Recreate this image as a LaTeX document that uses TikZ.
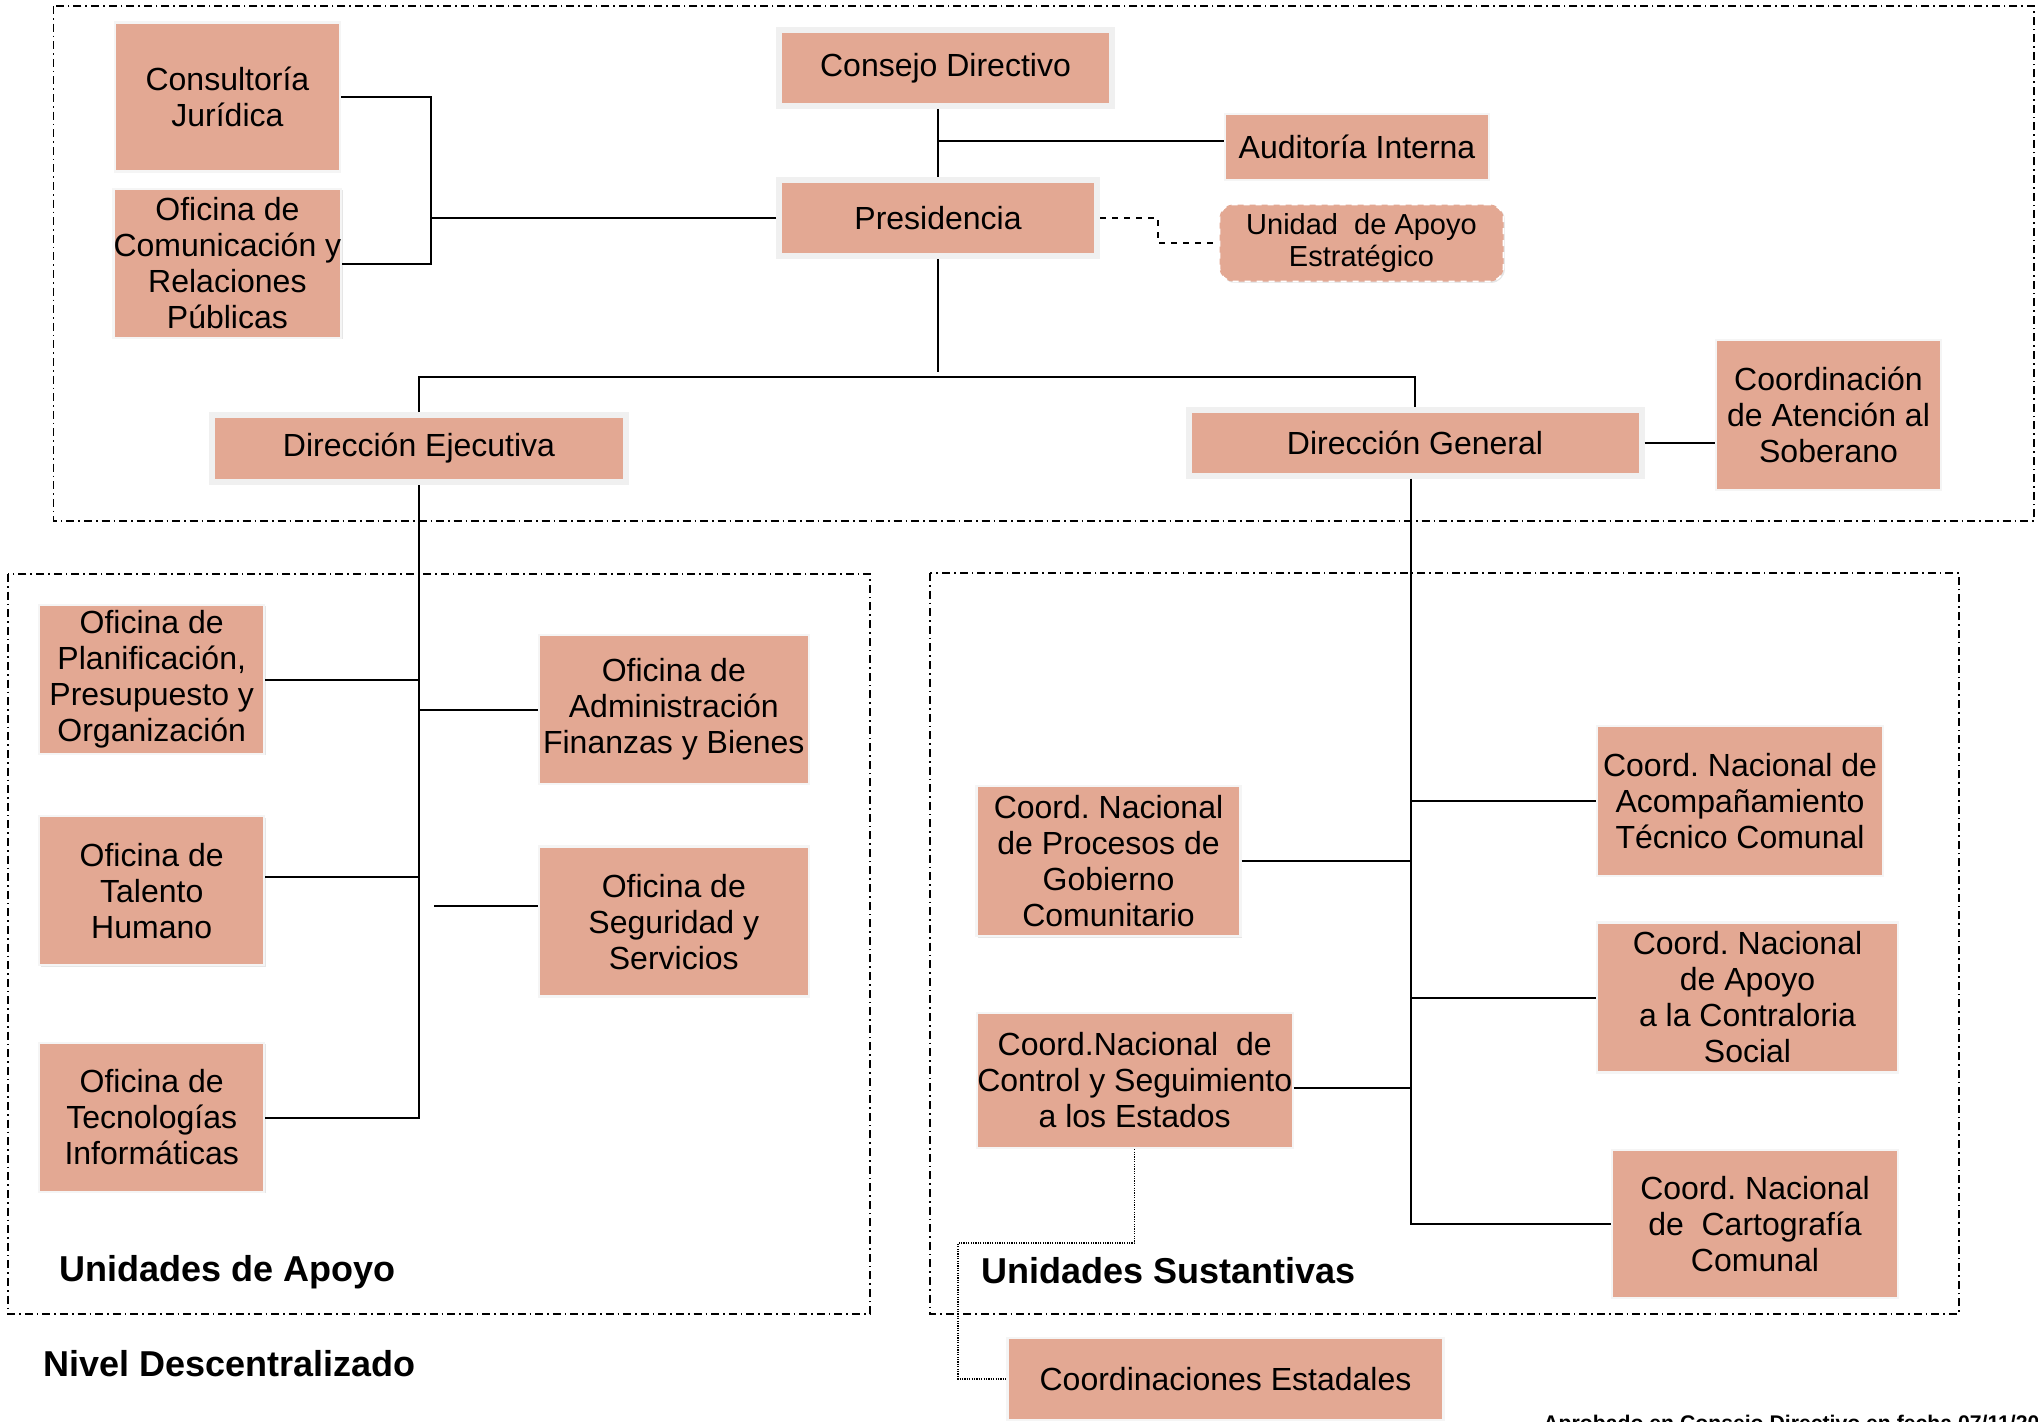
\documentclass[tikz,border=0pt]{standalone}
\usepackage{fontspec}
\setmainfont{Liberation Sans}
\usetikzlibrary{shadows}
\frenchspacing

\definecolor{boxfill}{RGB}{227,168,147}

\begin{document}
\begin{tikzpicture}[
x=0.5pt, y=-0.5pt,
boxsize/.style 2 args={minimum width=#1*0.5pt, minimum height=#2*0.5pt},
office/.style={rectangle, fill=boxfill, draw=gray!8, line width=1.2pt,
               inner sep=0pt, align=center,
               font=\fontsize{16}{18}\selectfont,
               drop shadow={shadow xshift=0.7pt, shadow yshift=-0.7pt, opacity=0.2}
               },
topoffice/.style={office, draw=gray!12, line width=3pt},
support/.style={office, rounded corners=7pt, draw=white, dashed, line width=0.8pt,
                font=\fontsize{14.5}{16.25}\selectfont},
zone/.style={dash pattern=on 4pt off 2pt on 0.8pt off 2pt, line width=0.7pt},
link/.style={line width=1pt},
zonelabel/.style={font=\fontsize{18}{20}\selectfont\bfseries, anchor=west, inner sep=0pt}]

\clip (0,0) rectangle (2038,1421);

% zones
\draw[zone] (53.5,6) rectangle (2034,521);
\draw[zone] (8,574) rectangle (870,1314);
\draw[zone] (930,573) rectangle (1959,1314);

% nivel superior
\node[topoffice, boxsize={333}{76}] (consejo) at (945.5,68) {Consejo Directivo};
\node[topoffice, boxsize={318}{76}] (pres) at (938,218) {Presidencia};
\node[office, boxsize={264}{66}] (audit) at (1357,147) {Auditoría Interna};
\node[support, boxsize={284}{77}] (uae) at (1361.5,243) {Unidad~ de Apoyo\\Estratégico};
\node[office, boxsize={225}{149}] (cj) at (227.4,96.8) {Consultoría\\Jurídica};
\node[office, boxsize={225}{149}] (ocrp) at (227.4,263.5) {Oficina de\\Comunicación y\\Relaciones\\Públicas};
\node[topoffice, boxsize={414}{67}] (de) at (419,448.5) {Dirección Ejecutiva};
\node[topoffice, boxsize={453}{66}] (dg) at (1415,442.5) {Dirección General};
\node[office, boxsize={225}{150}] (cas) at (1828.5,415) {Coordinación\\de Atención al\\Soberano};

% unidades de apoyo
\node[office, boxsize={225}{149}] (opp) at (151.7,679.5) {Oficina de\\Planificación,\\Presupuesto y\\Organización};
\node[office, boxsize={225}{149}] (oth) at (151.7,890.6) {Oficina de\\Talento\\Humano};
\node[office, boxsize={225}{149}] (oti) at (151.7,1117.5) {Oficina de\\Tecnologías\\Informáticas};
\node[office, boxsize={270}{149}] (oafb) at (673.8,709.5) {Oficina de\\Administración\\Finanzas y Bienes};
\node[office, boxsize={270}{150}] (oss) at (673.8,921.6) {Oficina de\\Seguridad y\\Servicios};

% unidades sustantivas
\node[office, boxsize={264}{150}] (cnpg) at (1108.5,861.2) {Coord. Nacional\\de Procesos de\\Gobierno\\Comunitario};
\node[office, boxsize={316}{135}] (cncs) at (1134.7,1080.5) {Coord.Nacional~ de\\Control y Seguimiento\\a los Estados};
\node[office, boxsize={286}{150}] (cnat) at (1740,801) {Coord. Nacional de\\Acompañamiento\\Técnico Comunal};
\node[office, boxsize={301}{150}] (cncsoc) at (1747.5,997.5) {Coord. Nacional\\de Apoyo\\a la Contraloria\\Social};
\node[office, boxsize={286}{148}] (cncc) at (1755,1224) {Coord. Nacional\\de~ Cartografía\\Comunal};
\node[office, boxsize={436}{82}] (ce) at (1225.5,1379) {Coordinaciones Estadales};

% labels
\node[zonelabel] (lapoyo) at (59,1272) {Unidades de Apoyo};
\node[zonelabel] (lsust) at (981,1271) {Unidades Sustantivas};
\node[zonelabel] (lnivel) at (43,1364) {Nivel Descentralizado};
\node[font=\fontsize{10.6}{12}\selectfont\bfseries, anchor=base west, inner sep=0pt] (nota)
  at (1543,1430) {Aprobado en Consejo Directivo en fecha 07/11/20};

% consejo, presidencia
\coordinate (jcons) at (938,141);
\coordinate (brk) at (431,180);
\coordinate (bus) at (938,377);
\draw[link] (consejo.south -| pres.north) -- (pres.north);
\draw[link] (jcons) -- (jcons -| audit.west);
\draw[link] (cj.east) -| (brk) |- (ocrp.east);
\draw[link] (pres.west) -- (pres.west -| brk);
\draw[link, dashed, line width=0.8pt] (pres.east) -- ++(58,0) |- (uae.west);
\draw[link] (pres.south) -- ++(0,113);
\draw[link] (de.north) -- (de.north |- bus) -- (dg.north |- bus) -- (dg.north);
\draw[link] (dg.east) -- (dg.east -| cas.west);

% direccion ejecutiva
\coordinate (tth) at ([yshift=7pt]oth.east);
\coordinate (tss) at ([yshift=8pt]oss.west);
\draw[link] (de.south) |- (oti.east);
\foreach \n in {opp.east, tth} {
  \draw[link] (\n) -- (\n -| de.south);
}
\draw[link] (oafb.west) -- (oafb.west -| de.south);
\draw[link] (tss) -- ++(-104,0);

% direccion general
\coordinate (trunk) at ([xshift=-2pt]dg.south);
\coordinate (tcs) at ([yshift=-3.75pt]cncs.east);
\draw[link] (trunk) |- (cncc.west);
\foreach \n in {cnat, cncsoc} {
  \draw[link] (\n.west) -- (\n.west -| trunk);
}
\draw[link] (cnpg.east) -- (cnpg.east -| trunk);
\draw[link] (tcs) -- (tcs -| trunk);
\draw[line width=0.6pt, dash pattern=on 0.6pt off 0.6pt] (cncs.south) |- (958,1243) |- (ce.west);

\end{tikzpicture}
\end{document}
